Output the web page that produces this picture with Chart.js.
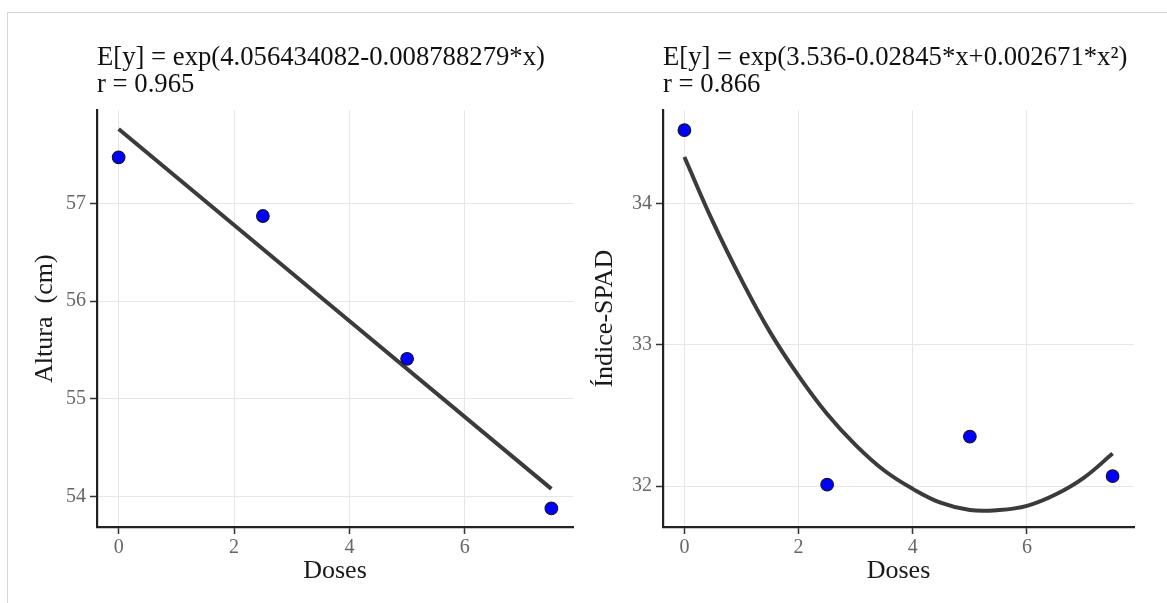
<!DOCTYPE html>
<html>
<head>
<meta charset="utf-8">
<script src="https://cdn.jsdelivr.net/npm/chart.js@4"></script>
<style>
  html, body { margin: 0; padding: 0; background: #fff; }
  #page { position: relative; width: 1167px; height: 603px; overflow: hidden; }
  #frame { position: absolute; left: 7px; top: 12px; right: -2px; bottom: -2px;
           border-top: 1px solid #d6d6d6; border-left: 1px solid #d6d6d6; }
  canvas { position: absolute; top: 0; }
</style>
</head>
<body>
<div id="page">
  <div id="frame"></div>
  <canvas id="alturaChart" width="583" height="603" style="left:0"></canvas>
  <canvas id="spadChart" width="584" height="603" style="left:583px"></canvas>
</div>
<script>
// observed means
const doses = [0, 2.5, 5, 7.5];
const altura = [57.47, 56.87, 55.41, 53.88];
const spad = [34.52, 32.01, 32.35, 32.07];

// fitted curves
const alturaFitX = [0, 7.5];
const alturaFitY = [57.76, 54.08];
const spadFitX = [0, 0.5, 1, 1.5, 2, 2.5, 3, 3.5, 4, 4.5, 5, 5.5, 6, 6.5, 7, 7.5];
const spadFitY = [34.33, 33.87, 33.46, 33.09, 32.78, 32.51, 32.29, 32.11,
                  31.98, 31.88, 31.83, 31.83, 31.86, 31.94, 32.06, 32.23];

// axis ticks
const doseTicks = [0, 2, 4, 6];
const alturaTicks = [54, 55, 56, 57];
const spadTicks = [32, 33, 34];

const serif = "'Liberation Serif', 'Times New Roman', serif";

function toXY(xs, ys) {
    return xs.map((x, i) => ({ x: x, y: ys[i] }));
}

function drawPanel(id, cfg) {
    const ctx = document.getElementById(id).getContext('2d');
    return new Chart(ctx, {
        type: 'scatter',
        data: {
            datasets: [{
                // pontos observados (on top)
                data: toXY(doses, cfg.points),
                pointRadius: 6.3,
                pointBackgroundColor: '#0000ff',
                pointBorderColor: '#14143c',
                pointBorderWidth: 1.2,
                showLine: false
            }, {
                // curva ajustada
                data: toXY(cfg.fitX, cfg.fitY),
                showLine: true,
                pointRadius: 0,
                borderColor: '#3b3b3b',
                borderWidth: 4,
                tension: 0.4
            }]
        },
        options: {
            responsive: false,
            animation: false,
            devicePixelRatio: 1,
            layout: { padding: { left: 0, top: 0, right: cfg.padRight, bottom: 0 } },
            plugins: {
                legend: { display: false },
                tooltip: { enabled: false },
                title: {
                    display: true,
                    text: cfg.title,
                    align: 'start',
                    fullSize: false,
                    color: '#111',
                    font: { family: serif, size: 26.7, weight: 'normal', lineHeight: 1 },
                    padding: { top: 45, bottom: 12 }
                }
            },
            scales: {
                x: {
                    type: 'linear',
                    min: -0.375,
                    max: 7.875,
                    afterBuildTicks: s => { s.ticks = doseTicks.map(v => ({ value: v })); },
                    afterFit: s => { s.height = 76; },
                    grid: { color: '#e6e6e6', lineWidth: 1, tickColor: '#333', tickLength: 7, tickWidth: 1.5 },
                    border: { color: '#222', width: 2.2 },
                    ticks: { color: '#666', font: { family: serif, size: 20 }, padding: 2, maxRotation: 0 },
                    title: {
                        display: true,
                        text: 'Doses',
                        color: '#1a1a1a',
                        font: { family: serif, size: 26, lineHeight: 1 },
                        padding: { top: 0, bottom: 19 }
                    }
                },
                y: {
                    min: cfg.yMin,
                    max: cfg.yMax,
                    afterBuildTicks: s => { s.ticks = cfg.yTicks.map(v => ({ value: v })); },
                    afterFit: s => { s.width = cfg.yWidth; },
                    grid: { color: '#e6e6e6', lineWidth: 1, tickColor: '#333', tickLength: 7, tickWidth: 1.5 },
                    border: { color: '#222', width: 2.2 },
                    ticks: { color: '#666', font: { family: serif, size: 20 }, padding: 4 },
                    title: {
                        display: true,
                        text: cfg.yTitle,
                        color: '#1a1a1a',
                        font: { family: serif, size: 26, lineHeight: 1 },
                        padding: { top: cfg.yTitlePad, bottom: 0 }
                    }
                }
            }
        }
    });
}

drawPanel('alturaChart', {
    title: ['E[y] = exp(4.056434082-0.008788279*x)', 'r = 0.965'],
    points: altura,
    fitX: alturaFitX,
    fitY: alturaFitY,
    yMin: 53.69,
    yMax: 57.95,
    yTicks: alturaTicks,
    yTitle: 'Altura  (cm)',
    yWidth: 97,
    yTitlePad: 32,
    padRight: 10
});

drawPanel('spadChart', {
    title: ['E[y] = exp(3.536-0.02845*x+0.002671*x²)', 'r = 0.866'],
    points: spad,
    fitX: spadFitX,
    fitY: spadFitY,
    yMin: 31.71,
    yMax: 34.66,
    yTicks: spadTicks,
    yTitle: 'Índice-SPAD',
    yWidth: 80,
    yTitlePad: 9,
    padRight: 33
});
</script>
</body>
</html>
